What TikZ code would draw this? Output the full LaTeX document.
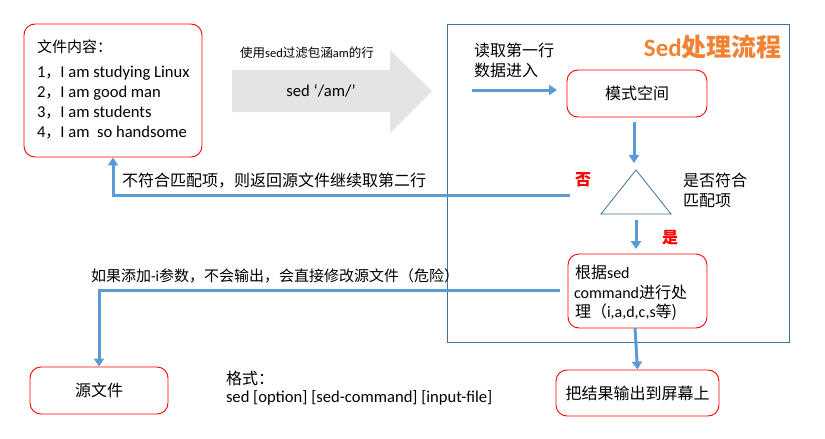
\documentclass[tikz,border=0pt]{standalone}
\usepackage{fontspec}
\setmainfont{Carlito}
\newfontfamily\cjk{Noto Sans CJK SC}
\usetikzlibrary{arrows.meta}
\definecolor{arrowblue}{HTML}{5B9BD5}
\definecolor{frameblue}{HTML}{41719C}
\definecolor{boxred}{HTML}{FF0000}
\definecolor{biggray}{HTML}{E4E4E4}
\definecolor{titleorange}{HTML}{F08234}
\newcommand{\cj}[1]{{\fontsize{15}{20}\selectfont\cjk #1}}
\tikzset{
  redbox/.style={draw=boxred, line width=0.9pt, rounded corners=11pt, fill=white, inner sep=0pt},
  flow/.style={draw=arrowblue, line width=3pt, -{Triangle[length=8pt,width=10pt]}},
  txt/.style={inner sep=0pt, outer sep=0pt, font=\fontsize{16}{20}\selectfont},
  lattxt/.style={inner sep=0pt, outer sep=0pt, font=\fontsize{16.6}{20}\selectfont},
  smalltxt/.style={inner sep=0pt, outer sep=0pt, font=\fontsize{15}{20}\selectfont},
}
\begin{document}
\begin{tikzpicture}[x=1pt,y=-1pt]
\useasboundingbox (0,0) rectangle (825,439);
% outer frame
\draw[frameblue, line width=0.8pt] (447,24) rectangle (789,342);
% title
\node[inner sep=0pt, anchor=east, text=titleorange, font=\fontsize{25}{28}\selectfont\bfseries] (title) at (782,47) {Sed{\cjk\bfseries 处理流程}};

% file content box
\node[redbox, minimum width=178pt, minimum height=133pt] (file) at (113,90.5) {};
\node[smalltxt, anchor=west] (fhead) at (37,47) {\cjk 文件内容：};
\node[lattxt, anchor=west] (l1) at (37,73) {1\cj{，}I am studying Linux};
\node[lattxt, anchor=west] (l2) at (37,93) {2\cj{，}I am good man};
\node[lattxt, anchor=west] (l3) at (37,113) {3\cj{，}I am students};
\node[lattxt, anchor=west] (l4) at (37,133) {4\cj{，}I am\ \ so handsome};

% big gray arrow
\fill[biggray] (232,70) -- (390,70) -- (390,50) -- (432,91) -- (390,133) -- (390,112) -- (232,112) -- cycle;
\node[inner sep=0pt, anchor=west, font=\fontsize{12.5}{14}\selectfont] (filt) at (240,53) {{\cjk 使用}sed{\cjk 过滤包涵}am{\cjk 的行}};
\node[lattxt] (sedam) at (321,91) {sed ‘/am/’};

% read first line
\node[txt, anchor=north west, align=left] (read) at (474,43) {\cjk 读取第一行\\\cjk 数据进入};
\coordinate (rs) at (472,90);
\coordinate (re) at (557,90);
\draw[flow] (rs) -- (re);

% pattern space
\node[redbox, minimum width=140pt, minimum height=47pt, font=\fontsize{16}{20}\selectfont] (mode) at (637,93.5) {\cjk 模式空间};

% triangle
\coordinate (tA) at (636,170);
\coordinate (tB) at (671,214);
\coordinate (tC) at (601,214);
\draw[frameblue, line width=0.8pt, fill=white] (tA) -- (tB) -- (tC) -- cycle;
\coordinate (m1) at (634,122);
\coordinate (m2) at (634,163);
\draw[flow] (m1) -- (m2);

\node[txt, text=boxred, font=\fontsize{16}{20}\selectfont\cjk\bfseries] (no) at (583,180) {否};
\node[txt, anchor=north west, align=left] (q) at (683,173) {\cjk 是否符合\\\cjk 匹配项};
\node[txt, text=boxred, font=\fontsize{16}{20}\selectfont\cjk\bfseries] (yes) at (670,238) {是};

% no match back
\coordinate (nm) at (570,195);
\draw[flow] (nm) -| (file.south);
\node[txt, anchor=west] (nmt) at (122,181) {\cjk 不符合匹配项，则返回源文件继续取第二行};

% yes arrow
\coordinate (y1) at (636,220);
\coordinate (y2) at (636,249);
\draw[flow] (y1) -- (y2);

% process box
\node[redbox, minimum width=139pt, minimum height=74pt] (proc) at (637.5,291) {};
\node[txt, anchor=west] (p1) at (575,272) {{\cjk 根据}sed};
\node[txt, anchor=west] (p2) at (574,292) {command{\cjk 进行处}};
\node[txt, anchor=west] (p3) at (575,312) {{\cjk 理（}i,a,d,c,s{\cjk 等}{\cjk )}};

% -i line
\coordinate (il) at (560,290);
\node[redbox, minimum width=138pt, minimum height=47pt, font=\fontsize{16}{20}\selectfont] (src) at (99,390.5) {\cjk 源文件};
\draw[flow] (il) -| (src.north);
\node[smalltxt, anchor=west] (it) at (91,276) {{\cjk 如果添加}-i{\cjk 参数，不会输出，会直接修改源文件（危险）}};

% output
\node[redbox, minimum width=163pt, minimum height=46pt, font=\fontsize{16}{20}\selectfont] (out) at (637.5,393) {\cjk 把结果输出到屏幕上};
\coordinate (o1) at (635,328);
\draw[flow] (o1) -- (out.north);

% format
\node[txt, anchor=west] (fmt1) at (226,378) {\cjk 格式：};
\node[lattxt, anchor=west] (fmt2) at (226,398) {sed [option] [sed-command] [input-file]};
\end{tikzpicture}
\end{document}
